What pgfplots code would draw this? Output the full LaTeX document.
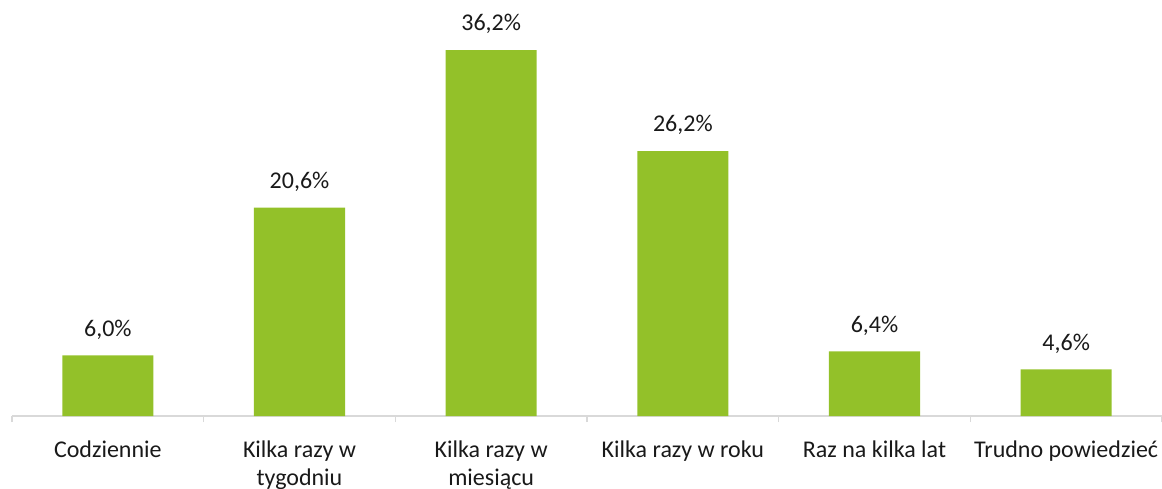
\documentclass[border=0pt]{standalone}
\usepackage{pgfplots}
\pgfplotsset{compat=1.18}
\usepackage{fontspec}
\setmainfont{Carlito}
\definecolor{barg}{RGB}{147,193,41}
\definecolor{axg}{RGB}{217,217,217}
\begin{document}
\begin{tikzpicture}[x=1pt,y=1pt]
\begin{axis}[
  at={(6pt,36pt)}, anchor=south west,
  scale only axis, width=575pt, height=202.2pt,
  xmin=-0.5, xmax=5.5, ymin=0, ymax=40,
  axis x line*=bottom, axis y line=none,
  x axis line style={draw=axg, line width=0.8pt},
  xtick={0,1,2,3,4,5},
  xticklabels={Codziennie,{Kilka razy w\\tygodniu},{Kilka razy w\\miesiącu},Kilka razy w roku,Raz na kilka lat,Trudno powiedzieć},
  major tick length=0pt,
  minor xtick={-0.5,0.5,1.5,2.5,3.5,4.5,5.5},
  minor tick length=3pt,
  tick align=outside,
  every minor tick/.style={draw=axg, line width=0.8pt},
  x tick label style={font=\fontsize{12}{14}\selectfont, align=center, text=black!90, yshift=-9pt},
  ybar, bar width=0.475,
  nodes near coords={\pgfmathprintnumber[fixed,fixed zerofill,precision=1,use comma]{\pgfplotspointmeta}\%},
  every node near coord/.append style={font=\fontsize{12}{14.6}\selectfont, text=black!90, yshift=4.5pt},
  /pgf/number format/assume math mode=true,
  clip=false,
]
\addplot[fill=barg, draw=none] coordinates {(0,6.0) (1,20.6) (2,36.2) (3,26.2) (4,6.4) (5,4.6)};
\end{axis}
\pgfresetboundingbox
\path (0,0) rectangle (581pt,244pt);
\end{tikzpicture}
\end{document}
